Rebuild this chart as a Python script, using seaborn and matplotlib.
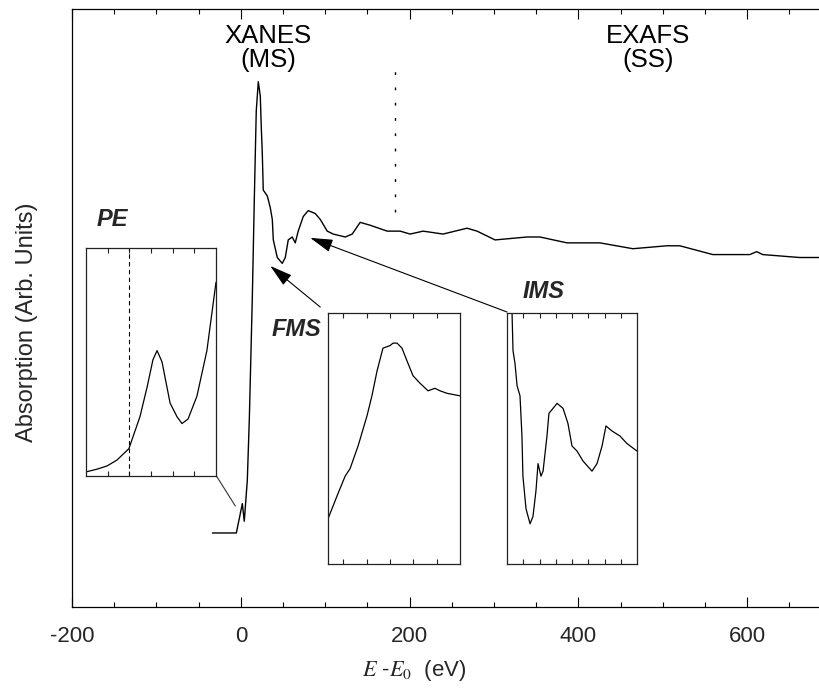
import numpy as np
import pandas as pd
import matplotlib
matplotlib.use("Agg")
import matplotlib.pyplot as plt
import seaborn as sns

# ---------------- data ----------------
# main spectrum: E - E0 (eV) vs absorption (normalised, arbitrary units)
energy = [-33.7, -18.3, -5.3, 1.8, 4.1, 7.7, 10.1, 13.6, 16.0, 18.3, 20.7, 23.1,
          24.3, 25.4, 26.6, 31.4, 34.9, 37.3, 38.5, 43.2, 49.1, 52.7, 56.2, 60.9,
          64.5, 68.0, 74.0, 79.9, 88.2, 94.1, 102.4, 109.5, 123.7, 132.0, 141.4,
          153.3, 173.4, 188.8, 200.6, 216.0, 239.6, 268.0, 279.9, 301.2, 339.1,
          354.4, 386.4, 425.4, 464.5, 504.7, 520.1, 559.2, 603.0, 611.2, 618.3,
          662.1, 685.8]
absorption = [0.00, 0.00, 0.00, 0.10, 0.04, 0.18, 0.39, 0.80, 1.14, 1.44, 1.54, 1.49,
              1.38, 1.30, 1.17, 1.15, 1.11, 1.07, 1.00, 0.94, 0.92, 0.94, 1.00, 1.01,
              0.99, 1.03, 1.08, 1.10, 1.09, 1.07, 1.03, 1.02, 1.01, 1.02, 1.06,
              1.05, 1.03, 1.03, 1.02, 1.03, 1.02, 1.04, 1.03, 1.00, 1.01,
              1.01, 0.99, 0.99, 0.97, 0.98, 0.98, 0.95, 0.95, 0.96, 0.95,
              0.94, 0.94]

# PE inset (pre-edge)
pe_x = [0.0, 0.51, 0.97, 1.43, 1.98, 2.49, 2.82, 3.09, 3.28, 3.51, 3.88, 4.2,
        4.43, 4.71, 5.12, 5.58, 6.0]
pe_y = [0.018, 0.03, 0.044, 0.07, 0.12, 0.26, 0.39, 0.51, 0.55, 0.50, 0.32, 0.26,
        0.23, 0.25, 0.35, 0.55, 0.85]
pe_edge = 2.0

# FMS inset
fms_x = [0.36, 0.74, 1.09, 1.30, 1.64, 2.02, 2.23, 2.45, 2.70, 3.0, 3.13, 3.30,
         3.51, 3.72, 3.98, 4.28, 4.62, 4.91, 5.13, 5.43, 5.98]
fms_y = [0.18, 0.27, 0.35, 0.38, 0.47, 0.59, 0.67, 0.77, 0.86, 0.87, 0.88, 0.88,
         0.86, 0.81, 0.75, 0.72, 0.69, 0.70, 0.69, 0.68, 0.67]

# IMS inset
ims_x = [0.31, 0.37, 0.49, 0.62, 0.80, 0.92, 0.98, 1.17, 1.42, 1.60, 1.78, 1.91,
         2.09, 2.22, 2.46, 2.58, 3.08, 3.45, 3.75, 4.0, 4.31, 4.68, 5.23, 5.54,
         5.85, 6.09, 6.46, 6.95, 7.38, 8.0]
ims_y = [1.0, 0.85, 0.80, 0.71, 0.67, 0.51, 0.35, 0.22, 0.16, 0.19, 0.29, 0.40,
         0.35, 0.37, 0.51, 0.60, 0.64, 0.62, 0.56, 0.47, 0.45, 0.41, 0.37, 0.40,
         0.47, 0.55, 0.53, 0.51, 0.48, 0.45]

x_major = [-200, 0, 200, 400, 600]
x_minor = list(range(-200, 700, 50))
region_boundary = 183

# ---------------- style ----------------
sns.set_theme(style="ticks")
plt.rcParams['font.family'] = ['Liberation Sans', 'DejaVu Sans']
plt.rcParams['mathtext.fontset'] = 'stix'

W, H = 819, 689
fig = plt.figure(figsize=(W / 100, H / 100), dpi=100)


def fx(px):
    return px / W


def fy(py):
    return 1 - py / H


ax = fig.add_axes([fx(72), fy(607), (819 - 72) / W, (607 - 9) / H])
main_df = pd.DataFrame({"E": energy, "A": absorption})
sns.lineplot(data=main_df, x="E", y="A", ax=ax, color="black", lw=1.0,
             sort=False, estimator=None)
ax.set_xlim(-200, 685)
ax.set_ylim(-0.2526, 1.788)
ax.set_xticks(x_major)
ax.set_xticks(x_minor, minor=True)
ax.set_xticklabels([str(v) for v in x_major])
ax.set_yticks([])
ax.tick_params(axis='x', which='both', direction='in', top=True, bottom=True,
               width=0.8, color='black', labelsize=16, pad=14)
ax.tick_params(axis='x', which='major', length=7.5)
ax.tick_params(axis='x', which='minor', length=3.8)
ax.spines['right'].set_visible(False)
for s in ['left', 'bottom', 'top']:
    ax.spines[s].set_linewidth(0.9)
    ax.spines[s].set_color('black')

ax.set_xlabel(r'$E$ -$E_0$  (eV)', fontsize=16)
ax.xaxis.set_label_coords((414 - 72) / 747, -0.086)
ax.set_ylabel('Absorption (Arb. Units)', fontsize=17)
ax.yaxis.set_label_coords(-0.046, 0.477)

# XANES / EXAFS boundary
ax.vlines(region_boundary, (533 - 212) / 293, (533 - 70) / 293,
          colors='black', lw=1.0, linestyles=(0, (2, 9)))

fig.text(fx(268), fy(24), 'XANES\n(MS)', ha='center', va='top', fontsize=18.5,
         linespacing=1.0, color='black')
fig.text(fx(648), fy(24), 'EXAFS\n(SS)', ha='center', va='top', fontsize=18.5,
         linespacing=1.0, color='black')


def make_inset(rect, xs, ys, xlim, ticks):
    a = fig.add_axes(rect)
    sns.lineplot(x=xs, y=ys, ax=a, color='black', lw=0.9, sort=False,
                 estimator=None)
    a.set_xlim(*xlim)
    a.set_ylim(0, 1)
    a.set_xticks(ticks)
    a.set_yticks([])
    a.tick_params(axis='x', which='both', direction='in', top=True, bottom=True,
                  labelbottom=False, length=3.8, width=0.8, color='#222222')
    for s in a.spines.values():
        s.set_linewidth(0.9)
        s.set_color('#222222')
    a.set_facecolor('white')
    return a


pe_ax = make_inset([fx(86), fy(476), 130 / W, 228 / H], pe_x, pe_y, (0, 6),
                   [1, 2, 3, 4, 5])
pe_ax.axvline(pe_edge, color='black', lw=0.8, ls=(0, (4, 3)))
fms_ax = make_inset([fx(328), fy(564), 132 / W, 251 / H], fms_x, fms_y,
                    (0.36, 5.98), [1, 2, 3, 4, 5])
ims_ax = make_inset([fx(507), fy(564), 130 / W, 251 / H], ims_x, ims_y, (0, 8),
                    [1, 2, 3, 4, 5, 6, 7])

# labels of the insets
fig.text(fx(112), fy(219), 'PE', ha='center', va='center', fontsize=17,
         fontweight='bold', fontstyle='italic')
fig.text(fx(296), fy(330), 'FMS', ha='center', va='center', fontsize=17,
         fontweight='bold', fontstyle='italic')
fig.text(fx(544), fy(292), 'IMS', ha='center', va='center', fontsize=17,
         fontweight='bold', fontstyle='italic')

# arrows / connectors (main-axes data coordinates)
arrow_kw = dict(arrowstyle='-|>,head_length=0.7,head_width=0.2', color='black',
                lw=0.8, shrinkA=0, shrinkB=0, mutation_scale=20)
ax.annotate('', xy=(34.9, 0.911), xytext=(94.1, 0.771), arrowprops=arrow_kw)
ax.annotate('', xy=(82.2, 1.007), xytext=(315.4, 0.754), arrowprops=arrow_kw)
ax.annotate('', xy=(-6.5, 0.092), xytext=(-29.0, 0.195),
            arrowprops=dict(arrowstyle='-', color='#333333', lw=0.8,
                            shrinkA=0, shrinkB=0))

fig.savefig('out.png', dpi=100)
